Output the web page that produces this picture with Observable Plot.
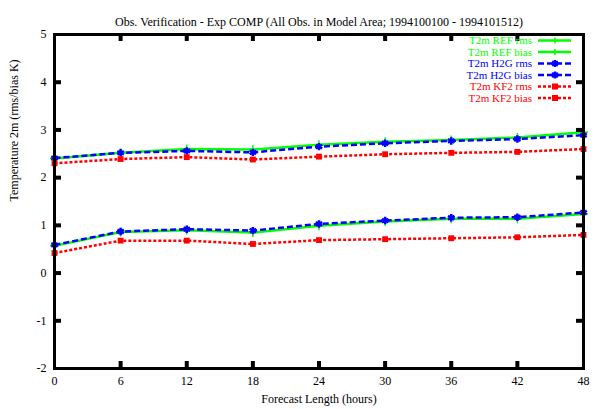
<!DOCTYPE html>
<html>
<head>
<meta charset="utf-8">
<script src="https://cdn.jsdelivr.net/npm/d3@7"></script>
<script src="https://cdn.jsdelivr.net/npm/@observablehq/plot@0.6"></script>
<style>
  html, body { margin: 0; padding: 0; background: #fff; }
  #chart { position: relative; width: 595px; height: 409px; }
</style>
</head>
<body>
<div id="chart"></div>
<script>
const hours = [0, 6, 12, 18, 24, 30, 36, 42, 48];
const refRms  = [2.40, 2.52, 2.60, 2.59, 2.69, 2.75, 2.79, 2.84, 2.95];
const refBias = [0.57, 0.86, 0.90, 0.85, 0.99, 1.08, 1.14, 1.14, 1.24];
const h2gRms  = [2.41, 2.52, 2.56, 2.53, 2.65, 2.72, 2.77, 2.81, 2.89];
const h2gBias = [0.59, 0.87, 0.92, 0.89, 1.03, 1.10, 1.16, 1.17, 1.27];
const kf2Rms  = [2.30, 2.39, 2.43, 2.38, 2.44, 2.49, 2.52, 2.54, 2.60];
const kf2Bias = [0.42, 0.68, 0.68, 0.61, 0.69, 0.71, 0.73, 0.75, 0.80];
const yTicks = [-2, -1, 0, 1, 2, 3, 4, 5];
const seriesNames = ["T2m REF rms", "T2m REF bias", "T2m H2G rms", "T2m H2G bias", "T2m KF2 rms", "T2m KF2 bias"];
const titleText = "Obs. Verification - Exp COMP (All Obs. in Model Area; 1994100100 - 1994101512)";
const xLabel = "Forecast Length (hours)";
const yLabel = "Temperature 2m (rms/bias K)";

const seriesValues = [refRms, refBias, h2gRms, h2gBias, kf2Rms, kf2Bias];
const styles = {
  REF: {color: "#00ff00", dash: null, symbol: "plus", r: 3, sw: 1.5, fill: "none"},
  H2G: {color: "#0000ff", dash: "6,3", symbol: "asterisk", r: 3.5, sw: 2.5, fill: "none"},
  KF2: {color: "#ff0000", dash: "3,2", symbol: "square", r: 3.3, sw: 0, fill: "#ff0000"}
};
const rows = [];
seriesNames.forEach((name, si) => {
  const model = name.split(" ")[1];
  hours.forEach((h, i) => rows.push({series: name, model, hour: h, value: seriesValues[si][i]}));
});

const marks = [];
["REF", "H2G", "KF2"].forEach(m => {
  const st = styles[m];
  const data = rows.filter(d => d.model === m);
  marks.push(Plot.line(data, {x: "hour", y: "value", z: "series", stroke: st.color, strokeWidth: 2.5, strokeDasharray: st.dash, strokeLinecap: "butt"}));
  marks.push(Plot.dot(data, {x: "hour", y: "value", symbol: () => st.symbol, r: st.r, stroke: st.sw ? st.color : "none", strokeWidth: st.sw, fill: st.fill}));
});

const W = 595, H = 409, mT = 34, mB = 41, mL = 54, mR = 12;
const tickLen = 7;
const xDomain = [0, 48], yDomain = [-2, 5];
const font = "'Liberation Serif', 'DejaVu Serif', serif";
const fs = 12;
const innerX = hours.slice(1, -1);
const innerY = yTicks.slice(1, -1);
const tyLen = tickLen * (yDomain[1] - yDomain[0]) / (H - mT - mB);
const txLen = tickLen * (xDomain[1] - xDomain[0]) / (W - mL - mR);
const tickMarks = [
  Plot.ruleX(innerX, {x: d => d, y1: () => yDomain[1], y2: () => yDomain[1] - tyLen, stroke: "#000", strokeWidth: 4}),
  Plot.ruleX(innerX, {x: d => d, y1: () => yDomain[0], y2: () => yDomain[0] + tyLen, stroke: "#000", strokeWidth: 4}),
  Plot.ruleY(innerY, {y: d => d, x1: () => xDomain[0], x2: () => xDomain[0] + txLen, stroke: "#000", strokeWidth: 4}),
  Plot.ruleY(innerY, {y: d => d, x1: () => xDomain[1], x2: () => xDomain[1] - txLen, stroke: "#000", strokeWidth: 4})
];

const plot = Plot.plot({
  width: W,
  height: H,
  marginTop: mT,
  marginBottom: mB,
  marginLeft: mL,
  marginRight: mR,
  style: {fontFamily: font, fontSize: fs + "px", background: "#fff", color: "#000"},
  x: {domain: xDomain, ticks: hours},
  y: {domain: yDomain, ticks: yTicks},
  marks: [
    Plot.axisX({anchor: "bottom", ticks: hours, tickSize: 0, tickPadding: 8, tickFormat: d => String(d), label: null, fontSize: fs}),
    Plot.axisY({anchor: "left", ticks: yTicks, tickSize: 0, tickPadding: 8, tickFormat: d => String(d), label: null, fontSize: fs}),
    ...marks,
    Plot.frame({stroke: "#000", strokeWidth: 3}),
    ...tickMarks,
    Plot.text([titleText], {frameAnchor: "top", dy: -17, fontSize: fs, fill: "#000"}),
    Plot.text([xLabel], {frameAnchor: "bottom", dy: 34, fontSize: fs, fill: "#000"}),
    Plot.text([yLabel], {frameAnchor: "left", dx: -40, rotate: -90, fontSize: fs, fill: "#000"})
  ]
});
document.getElementById("chart").appendChild(plot);

const svg = d3.select(plot);

// Legend (inside top-right of frame)
const lg = svg.append("g").attr("font-family", font).attr("font-size", 11);
const rowY = [40.5, 52, 63.5, 75, 86.5, 98];
seriesNames.forEach((name, i) => {
  const st = styles[name.split(" ")[1]];
  const y = rowY[i];
  lg.append("text").attr("x", 532).attr("y", y).attr("dy", "0.32em").attr("text-anchor", "end").attr("fill", st.color).text(name);
  lg.append("line").attr("x1", 538).attr("x2", 571).attr("y1", y).attr("y2", y)
    .attr("stroke", st.color).attr("stroke-width", 2.5).attr("stroke-dasharray", st.dash);
  let d;
  if (st.symbol === "plus") d = "M-3,0H3M0,-3V3";
  else if (st.symbol === "asterisk") d = "M0,-3.5V3.5M-3,-2L3,2M-3,2L3,-2";
  else d = "M-3,-3H3V3H-3Z";
  lg.append("path").attr("d", d).attr("transform", `translate(555,${y})`)
    .attr("fill", st.fill).attr("stroke", st.sw ? st.color : "none").attr("stroke-width", st.sw);
});
</script>
</body>
</html>
